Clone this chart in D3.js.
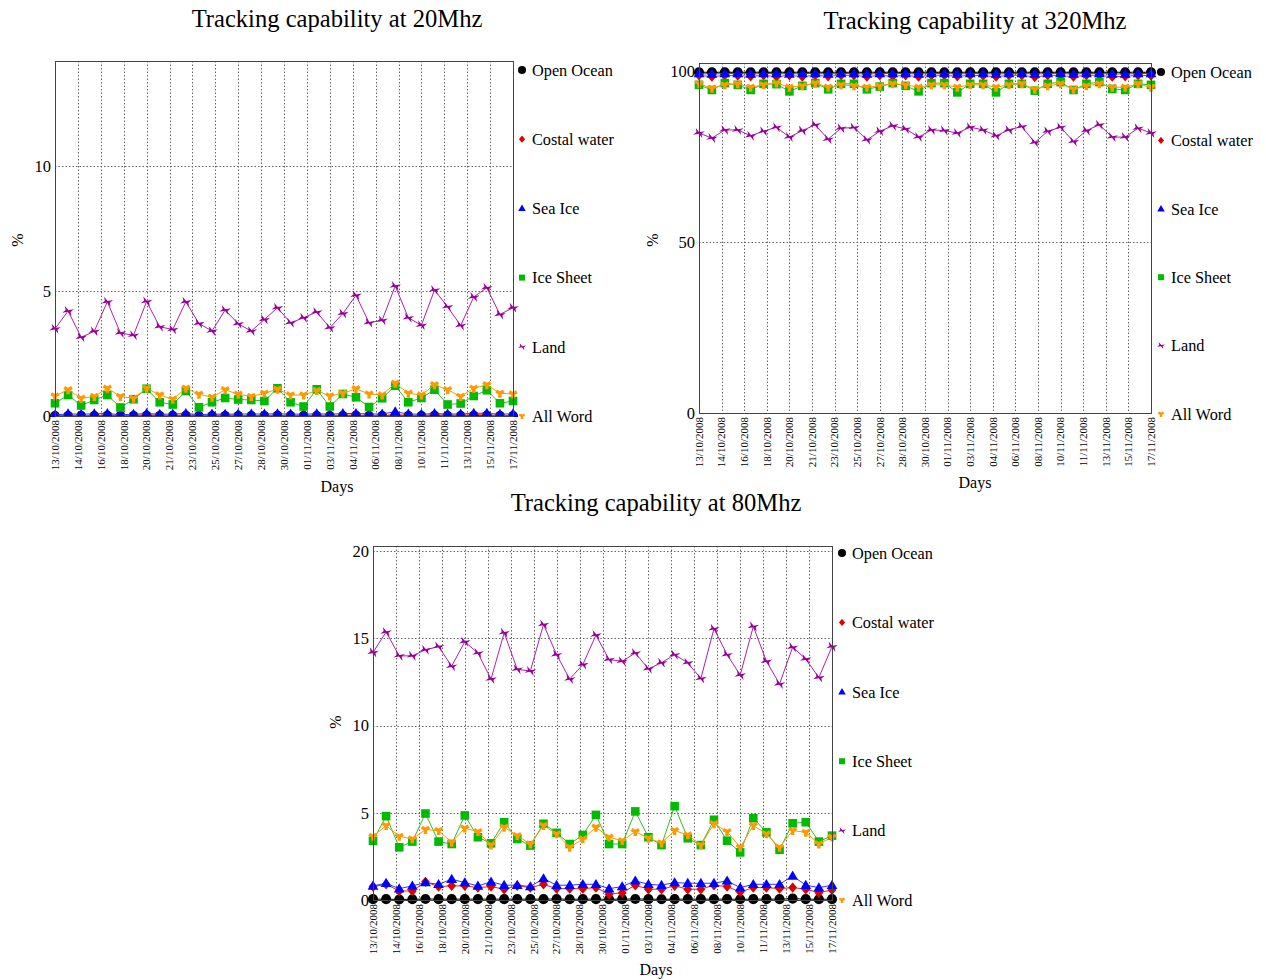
<!DOCTYPE html>
<html>
<head>
<meta charset="utf-8">
<script src="https://cdn.jsdelivr.net/npm/d3@7"></script>
<style>
  body { margin: 0; background: #ffffff; }
  svg { display: block; }
  text { font-family: "Liberation Serif", "Times New Roman", serif; fill: #000; }
</style>
</head>
<body>
<svg id="chart" width="1266" height="980"></svg>
<script>
// ---------------- DATA ----------------
const tickLabels = ["13/10/2008","14/10/2008","16/10/2008","18/10/2008","20/10/2008","21/10/2008","23/10/2008","25/10/2008","27/10/2008","28/10/2008","30/10/2008","01/11/2008","03/11/2008","04/11/2008","06/11/2008","08/11/2008","10/11/2008","11/11/2008","13/11/2008","15/11/2008","17/11/2008"];
const dayCount = 36; // 13/10/2008 .. 17/11/2008, one point per day
const seriesNames = ["Open Ocean","Costal water","Sea Ice","Ice Sheet","Land","All Word"];

// 20 MHz
const oo20 = [0.00,0.00,0.00,0.00,0.01,0.00,0.00,0.01,0.00,0.00,0.01,0.00,0.00,0.00,0.00,0.00,0.00,0.01,0.00,0.00,0.00,0.00,0.00,0.01,0.00,0.00,0.01,0.00,0.00,0.01,0.00,0.00,0.01,0.01,0.00,0.00];
const cw20 = [0.02,0.03,0.01,0.02,0.04,0.02,0.02,0.05,0.03,0.02,0.04,0.02,0.03,0.03,0.02,0.02,0.02,0.03,0.02,0.02,0.03,0.02,0.03,0.04,0.02,0.02,0.06,0.02,0.02,0.05,0.03,0.03,0.05,0.05,0.02,0.02];
const si20 = [0.04,0.09,0.07,0.09,0.10,0.05,0.07,0.10,0.07,0.08,0.10,0.05,0.08,0.07,0.08,0.08,0.08,0.09,0.08,0.07,0.09,0.07,0.10,0.10,0.08,0.08,0.17,0.08,0.07,0.10,0.08,0.08,0.11,0.11,0.07,0.09];
const is20 = [0.51,0.84,0.42,0.64,0.84,0.34,0.67,1.09,0.55,0.46,1.00,0.35,0.55,0.72,0.66,0.64,0.60,1.11,0.55,0.38,1.07,0.38,0.88,0.75,0.36,0.71,1.21,0.55,0.72,1.05,0.46,0.50,0.80,1.03,0.51,0.60];
const land20 = [3.49,4.20,3.15,3.39,4.57,3.32,3.23,4.58,3.57,3.46,4.57,3.70,3.40,4.24,3.69,3.40,3.86,4.33,3.73,3.93,4.16,3.53,4.10,4.83,3.73,3.83,5.20,3.93,3.63,5.04,4.37,3.62,4.76,5.13,4.06,4.33];
const aw20 = [0.80,1.05,0.71,0.78,1.11,0.78,0.71,1.11,0.84,0.67,1.11,0.87,0.75,1.05,0.87,0.78,0.91,1.07,0.84,0.84,1.02,0.80,0.91,1.09,0.88,0.84,1.31,0.91,0.84,1.25,1.05,0.78,1.11,1.25,0.91,0.88];

// 320 MHz
const oo320 = [99.8,99.8,99.8,99.8,99.8,99.8,99.8,99.8,99.8,99.8,99.8,99.8,99.8,99.8,99.8,99.8,99.8,99.8,99.8,99.8,99.8,99.8,99.8,99.8,99.8,99.8,99.8,99.8,99.8,99.8,99.8,99.8,99.8,99.8,99.8,99.8];
const cw320 = [98.9,98.5,98.9,98.8,98.6,98.9,98.5,98.9,98.5,98.9,98.6,98.9,98.9,98.5,98.9,98.6,98.9,98.5,98.9,98.9,98.6,98.9,98.8,98.5,98.9,98.9,98.4,98.9,98.8,98.5,98.9,98.9,98.5,98.6,98.9,98.8];
const si320 = [99.4,99.3,99.4,99.4,99.3,99.4,99.4,99.3,99.4,99.4,99.3,99.4,99.4,99.3,99.4,99.4,99.4,99.3,99.4,99.4,99.3,99.4,99.4,99.3,99.4,99.4,99.3,99.4,99.4,99.3,99.4,99.4,99.3,99.3,99.4,99.4];
const is320 = [96.1,94.6,96.6,96.1,94.6,96.4,96.3,94.2,95.8,96.6,94.8,96.4,96.4,94.8,95.6,96.6,95.8,94.2,96.6,96.6,93.9,96.4,96.4,93.9,96.4,96.4,94.4,96.4,96.9,94.6,96.4,96.9,94.9,94.6,96.4,96.1];
const land320 = [82.0,80.5,82.9,82.9,81.2,82.5,83.7,80.8,82.7,84.4,80.2,83.4,83.6,80.0,82.5,84.1,83.2,80.8,82.9,82.7,82.0,83.7,82.9,81.2,82.9,83.9,79.2,82.5,83.7,79.5,82.7,84.4,80.8,80.8,83.4,82.0];
const aw320 = [96.4,95.1,96.1,96.4,95.4,96.1,96.6,95.4,95.8,96.6,95.4,96.1,95.8,95.4,95.8,96.4,96.1,95.4,96.1,96.1,95.4,96.1,96.1,95.4,96.1,96.4,94.8,95.8,96.4,94.8,95.8,96.4,95.4,95.4,96.4,95.4];

// 80 MHz
const oo80 = [0.05,0.05,0.03,0.04,0.06,0.05,0.05,0.05,0.05,0.05,0.05,0.05,0.05,0.05,0.06,0.04,0.05,0.05,0.04,0.05,0.06,0.05,0.04,0.05,0.05,0.05,0.05,0.05,0.04,0.05,0.05,0.05,0.08,0.05,0.04,0.05];
const cw80 = [0.77,0.90,0.52,0.52,1.04,0.77,0.81,0.81,0.71,0.77,0.62,0.81,0.71,0.90,0.65,0.65,0.65,0.71,0.33,0.42,0.85,0.62,0.62,0.81,0.62,0.62,0.85,0.77,0.46,0.71,0.71,0.65,0.71,0.62,0.42,0.58];
const si80 = [0.81,0.96,0.65,0.81,1.00,0.90,1.19,1.00,0.81,1.04,0.85,0.85,0.77,1.23,0.85,0.85,0.90,0.90,0.65,0.77,1.10,0.90,0.85,1.00,0.96,0.96,0.96,1.10,0.71,0.90,0.90,0.90,1.38,0.85,0.71,0.85];
const is80 = [3.40,4.81,3.02,3.35,4.96,3.35,3.21,4.85,3.60,3.25,4.46,3.50,3.12,4.37,3.85,3.21,3.73,4.88,3.21,3.21,5.08,3.60,3.15,5.38,3.54,3.15,4.60,3.40,2.73,4.69,3.88,2.88,4.40,4.46,3.35,3.69];
const land80 = [14.20,15.37,14.00,14.00,14.35,14.53,13.41,14.81,14.16,12.67,15.32,13.23,13.13,15.80,14.07,12.67,13.50,15.19,13.79,13.69,14.16,13.26,13.60,14.07,13.60,12.70,15.56,14.07,12.90,15.69,13.69,12.39,14.50,13.82,12.76,14.53];
const aw80 = [3.65,4.27,3.65,3.50,4.04,3.98,3.31,4.12,3.92,3.15,4.17,3.69,3.21,4.27,3.79,3.02,3.50,4.17,3.60,3.40,3.92,3.54,3.27,3.98,3.73,3.15,4.37,3.92,3.02,4.27,3.79,3.02,3.98,3.88,3.21,3.60];

const yTicks20 = [0, 5, 10];
const yTicks320 = [0, 50, 100];
const yTicks80 = [0, 5, 10, 15, 20];

// ---------------- STYLE ----------------
const markerColors = ["#000000", "#dd0000", "#0000ff", "#00bb00", "#990099", "#ff9900"];
const lineColors   = ["#000000", "#ee2222", "#3333ff", "#33bb33", "#aa22aa", "#ff9900"];

const svg = d3.select("#chart");
svg.append("rect").attr("width", 1266).attr("height", 980).attr("fill", "#ffffff");
const defs = svg.append("defs");

function markerPath(k, s) {
  const p = d3.path();
  if (k === 0) { // circle
    return d3.symbol(d3.symbolCircle, 80 * s * s)();
  } else if (k === 1) { // diamond
    const r = 5.2 * s;
    p.moveTo(0, -r); p.lineTo(r * 0.85, 0); p.lineTo(0, r); p.lineTo(-r * 0.85, 0); p.closePath();
    return p.toString();
  } else if (k === 2) { // triangle
    const r = 5.4 * s;
    p.moveTo(0, -r); p.lineTo(r, r * 0.7); p.lineTo(-r, r * 0.7); p.closePath();
    return p.toString();
  } else if (k === 3) { // square
    const r = 4.3 * s;
    p.rect(-r, -r, 2 * r, 2 * r);
    return p.toString();
  } else if (k === 4) { // bowtie
    const w = 4.8 * s, h = 3.6 * s;
    p.moveTo(-w, -h); p.lineTo(0, -0.8 * s); p.lineTo(w, -h); p.lineTo(w * 0.55, 0);
    p.lineTo(w, h); p.lineTo(0, 0.8 * s); p.lineTo(-w, h); p.lineTo(-w * 0.55, 0); p.closePath();
    return p.toString();
  } else { // wye / pinwheel
    return d3.symbol(d3.symbolWye, 40 * s * s)();
  }
}

function drawChart(cfg) {
  const g = svg.append("g");
  const x = d3.scaleLinear().domain([0, dayCount - 1]).range([cfg.left, cfg.right]);
  const y = d3.scaleLinear().domain([0, cfg.yMax]).range([cfg.bottom, cfg.top]);

  // grid: vertical
  const tickPos = tickLabels.map((d, i) => i * (dayCount - 1) / (tickLabels.length - 1));
  g.append("g").selectAll("line").data(tickPos.slice(1, -1)).join("line")
    .attr("x1", d => Math.round(x(d)) + 0.5).attr("x2", d => Math.round(x(d)) + 0.5)
    .attr("y1", cfg.top).attr("y2", cfg.bottom)
    .attr("stroke", "#666").attr("stroke-width", 1).attr("stroke-dasharray", "1.5,2");
  // grid: horizontal
  g.append("g").selectAll("line").data(cfg.yTicks.filter(t => t > 0)).join("line")
    .attr("x1", cfg.left).attr("x2", cfg.right)
    .attr("y1", d => Math.round(y(d)) + 0.5).attr("y2", d => Math.round(y(d)) + 0.5)
    .attr("stroke", "#666").attr("stroke-width", 1).attr("stroke-dasharray", "1.5,2");

  // y tick labels
  g.append("g").selectAll("text").data(cfg.yTicks).join("text")
    .attr("x", cfg.left - 4).attr("y", d => y(d))
    .attr("dy", "0.35em").attr("text-anchor", "end")
    .style("font-size", "16.5px").text(d => d);

  // x tick labels (rotated)
  g.append("g").selectAll("text").data(tickLabels).join("text")
    .attr("transform", (d, i) => `translate(${x(tickPos[i])},${cfg.bottom + 4}) rotate(-90)`)
    .attr("dy", "0.35em").attr("text-anchor", "end")
    .style("font-size", "11px").text(d => d);

  // axis titles
  g.append("text").attr("x", cfg.titleX).attr("y", cfg.daysY)
    .attr("text-anchor", "middle").style("font-size", "16px").text("Days");
  g.append("text").attr("transform", `translate(${cfg.pctX},${cfg.pctY}) rotate(-90)`)
    .attr("text-anchor", "middle").attr("dy", "0.35em").style("font-size", "16px").text("%");

  // title
  g.append("text").attr("x", cfg.titleX).attr("y", cfg.titleY)
    .attr("text-anchor", "middle").style("font-size", "24.6px").text(cfg.title);

  // series (optionally clipped at the bottom of the plot)
  const clipId = "clip" + cfg.id;
  defs.append("clipPath").attr("id", clipId).append("rect")
    .attr("x", cfg.left - 10).attr("y", cfg.top - 10)
    .attr("width", cfg.right - cfg.left + 20)
    .attr("height", cfg.bottom - cfg.top + 10 + (cfg.clipBottom ? 1 : 12));
  const dataG = g.append("g").attr("clip-path", `url(#${clipId})`);
  const line = d3.line().x((d, i) => x(i)).y(d => y(d));
  cfg.series.forEach((vals, k) => {
    const sg = dataG.append("g");
    sg.append("path").datum(vals).attr("d", line)
      .attr("fill", "none").attr("stroke", lineColors[k]).attr("stroke-width", 1);
    sg.selectAll("path.m").data(vals).join("path").attr("class", "m")
      .attr("transform", (d, i) => `translate(${x(i)},${y(d)})` + (k === 4 ? " rotate(20)" : ""))
      .attr("d", markerPath(k, 1))
      .attr("fill", markerColors[k]);
  });

  // frame
  g.append("rect").attr("x", cfg.left + 0.5).attr("y", cfg.top + 0.5)
    .attr("width", cfg.right - cfg.left).attr("height", cfg.bottom - cfg.top)
    .attr("fill", "none").attr("stroke", "#444").attr("stroke-width", 1);

  // legend
  const lg = g.append("g");
  seriesNames.forEach((name, k) => {
    const ly = cfg.legTop + k * cfg.legStep;
    lg.append("path").attr("transform", `translate(${cfg.legX},${ly})` + (k === 4 ? " rotate(20)" : ""))
      .attr("d", markerPath(k, k === 0 ? 0.8 : 0.7)).attr("fill", markerColors[k]);
    lg.append("text").attr("x", cfg.legX + 10).attr("y", ly).attr("dy", "0.35em")
      .style("font-size", "16.3px").text(name);
  });
}

drawChart({
  id: 20, clipBottom: true,
  title: "Tracking capability at 20Mhz", titleX: 337, titleY: 27,
  left: 55, right: 513, top: 61, bottom: 416, yMax: 14.2, yTicks: yTicks20,
  series: [oo20, cw20, si20, is20, land20, aw20],
  legX: 522, legTop: 70, legStep: 69.2, daysY: 492, pctX: 17, pctY: 240
});
drawChart({
  id: 320, clipBottom: false,
  title: "Tracking capability at 320Mhz", titleX: 975, titleY: 29,
  left: 699, right: 1151, top: 63, bottom: 413, yMax: 102.5, yTicks: yTicks320,
  series: [oo320, cw320, si320, is320, land320, aw320],
  legX: 1161, legTop: 72, legStep: 68.4, daysY: 488, pctX: 652, pctY: 240
});
drawChart({
  id: 80, clipBottom: false,
  title: "Tracking capability at 80Mhz", titleX: 656, titleY: 511,
  left: 373, right: 832, top: 546, bottom: 900, yMax: 20.3, yTicks: yTicks80,
  series: [oo80, cw80, si80, is80, land80, aw80],
  legX: 842, legTop: 553, legStep: 69.4, daysY: 975, pctX: 335, pctY: 722
});
</script>
</body>
</html>
